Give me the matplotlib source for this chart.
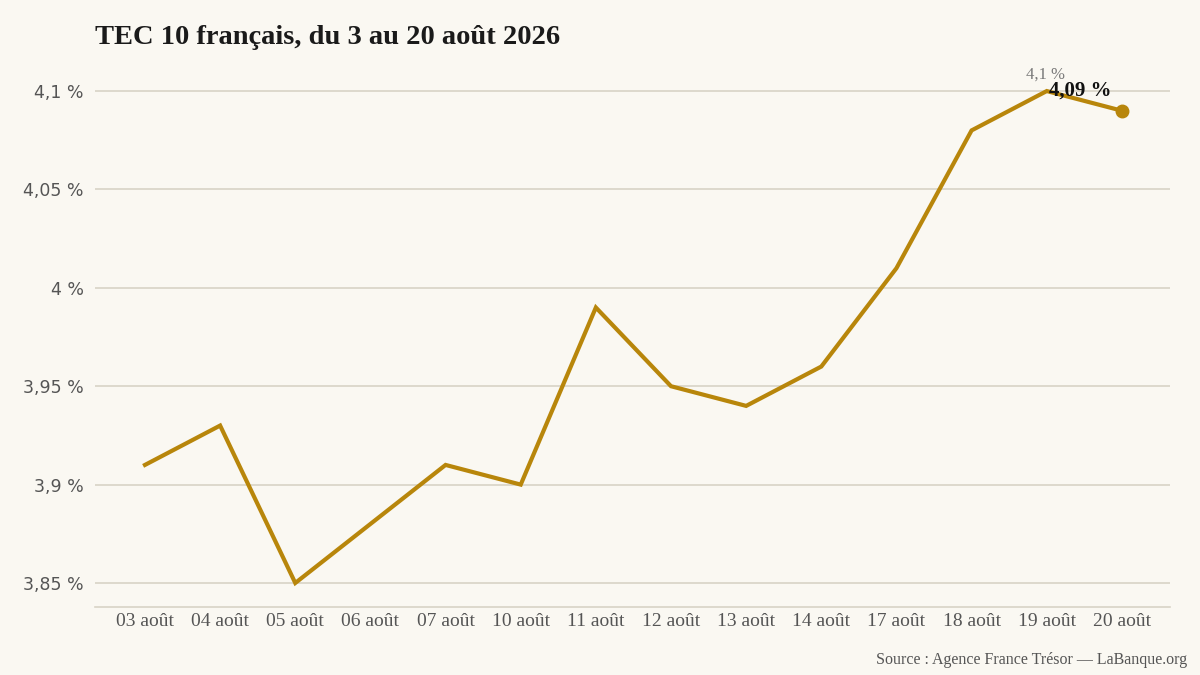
from matplotlib import pyplot as plt
import numpy as np

labels = ["03 août", "04 août", "05 août", "06 août", "07 août", "10 août", "11 août",
          "12 août", "13 août", "14 août", "17 août", "18 août", "19 août", "20 août"]
values = [3.91, 3.93, 3.85, 3.88, 3.91, 3.90, 3.99, 3.95, 3.94, 3.96, 4.01, 4.08, 4.10, 4.09]
yticks = [3.85, 3.90, 3.95, 4.00, 4.05, 4.10]

bg = '#faf8f2'
gold = '#b8860b'
serif = ['Liberation Serif', 'DejaVu Serif']

def fmt(v):
    s = f"{v:.2f}".rstrip('0').rstrip('.')
    return s.replace('.', ',') + ' %'

fig = plt.figure(figsize=(12, 6.75), dpi=100, facecolor=bg)
ax = fig.add_axes([95 / 1200, 1 - 607 / 675, 1075 / 1200, 537 / 675], facecolor=bg)

x = np.arange(len(values))
ax.plot(x, values, color=gold, lw=3, solid_joinstyle='miter', zorder=3)
ax.plot(x[-1], values[-1], 'o', color=gold, ms=9, zorder=4)

ax.set_xlim(-0.665, len(values) - 1 + 0.64)
ax.set_ylim(3.8378, 4.1107)
ax.set_yticks(yticks)
ax.set_yticklabels([fmt(v) for v in yticks], family='DejaVu Sans', fontsize=12.5, color='#555555')
ax.set_xticks(x)
ax.set_xticklabels(labels, family=serif, fontsize=14, color='#555555')
ax.tick_params(length=0)
ax.tick_params(axis='y', pad=8)
ax.tick_params(axis='x', pad=4)
ax.grid(axis='y', color='#d8d3c6', lw=1.2)
ax.set_axisbelow(True)
for side in ['top', 'right', 'left']:
    ax.spines[side].set_visible(False)
ax.spines['bottom'].set_color('#d8d3c6')
ax.spines['bottom'].set_linewidth(1.2)

# annotations of the max and the last value
imax = int(np.argmax(values))
ax.annotate(fmt(values[imax]), (x[imax], values[imax]), xytext=(-1, 6), textcoords='offset points',
            ha='center', va='bottom', family=serif, fontsize=12, color='#777777')
ax.annotate(fmt(values[-1]), (x[-1], values[-1]), xytext=(-30, 7), textcoords='offset points',
            ha='center', va='bottom', family=serif, fontsize=15, fontweight='bold', color='#111111')

fig.text(95 / 1200, 1 - 37 / 675, "TEC 10 français, du 3 au 20 août 2026", family=serif,
         fontsize=20.5, fontweight='bold', color='#1a1a1a', va='center', ha='left')
fig.text(1187 / 1200, 1 - 660 / 675, "Source : Agence France Trésor — LaBanque.org", family=serif,
         fontsize=11.5, color='#555555', va='center', ha='right')

fig.savefig('out.png', dpi=100, facecolor=bg)
